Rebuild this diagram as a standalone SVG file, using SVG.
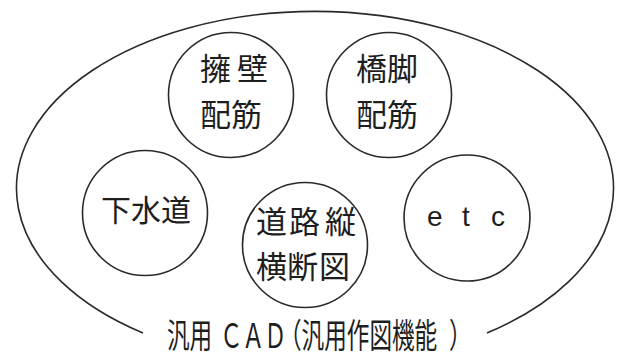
<svg xmlns="http://www.w3.org/2000/svg" width="617" height="358" viewBox="0 0 617 358">
  <style>
    .ln { fill: none; stroke: #2a2a2a; stroke-width: 1.6; }
    .nd { fill: #ffffff; stroke: #2a2a2a; stroke-width: 1.6; }
    .jp { font-family: "Noto Sans CJK JP", "Noto Sans", sans-serif; fill: #1e1e1e; }
    .lt { font-family: "Liberation Sans", Arial, sans-serif; fill: #1e1e1e; }
  </style>
  <rect width="617" height="358" fill="#ffffff"/>
  <g id="connectors"></g>
  <g id="general-cad">
    <path class="ln" d="M 143 333 A 298.5 177 0 1 1 487 333"/>
    <text class="jp" font-size="34" transform="scale(0.665 1)" y="348" x="251.1 285.1 330.8 363.9 397.0 419.5 453.5 487.5 521.5 555.5 589.5 623.5 675.2">汎用ＣＡＤ（汎用作図機能）</text>
  </g>
  <g id="node-retaining-wall">
    <circle class="nd" cx="231" cy="95" r="62.5"/>
    <text class="jp" font-size="31" y="80" x="200 237">擁壁</text>
    <text class="jp" font-size="31" y="126" x="200">配筋</text>
  </g>
  <g id="node-pier">
    <circle class="nd" cx="389" cy="95" r="62.5"/>
    <text class="jp" font-size="31" y="80" x="356">橋脚</text>
    <text class="jp" font-size="31" y="126" x="356">配筋</text>
  </g>
  <g id="node-sewer">
    <circle class="nd" cx="145" cy="213" r="62.5"/>
    <text class="jp" font-size="30" y="221" x="101">下水道</text>
  </g>
  <g id="node-road">
    <circle class="nd" cx="305" cy="245" r="62.5"/>
    <text class="jp" font-size="31" y="233" x="256 289 325">道路縦</text>
    <text class="jp" font-size="31" y="278" x="256 287 319">横断図</text>
  </g>
  <g id="node-etc">
    <circle class="nd" cx="467" cy="218" r="63"/>
    <text class="lt" font-size="28" y="226" x="427 462 491">etc</text>
  </g>
</svg>
